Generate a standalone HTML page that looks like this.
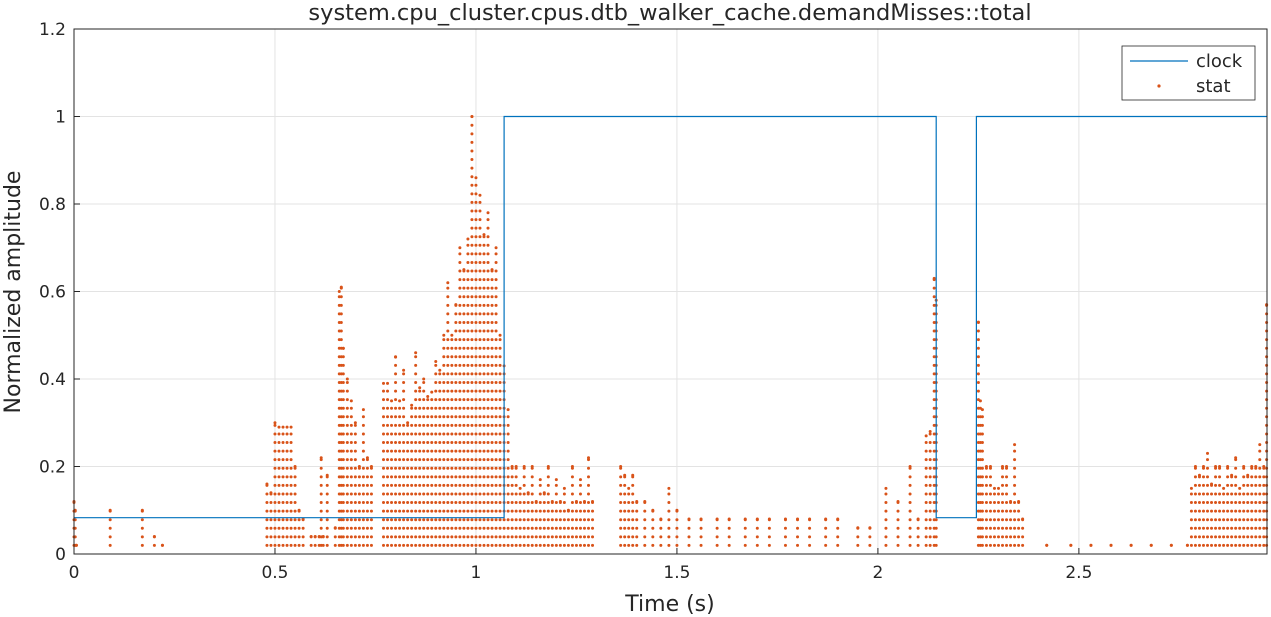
<!DOCTYPE html>
<html><head><meta charset="utf-8"><style>
html,body{margin:0;padding:0;background:#fff;}
svg{display:block;font-family:"DejaVu Sans","Liberation Sans",sans-serif;}
</style></head><body>
<svg id="chart" width="1271" height="617">
<rect x="0" y="0" width="1271" height="617" fill="#fff"/>
<g id="grid"></g>
<g id="marks"></g>
<g id="axes"></g>
<text x="670" y="20" text-anchor="middle" font-size="22.5" fill="#262626">system.cpu_cluster.cpus.dtb_walker_cache.demandMisses::total</text>
<text x="670" y="611" text-anchor="middle" font-size="22" fill="#262626">Time (s)</text>
<text transform="translate(20,292) rotate(-90)" text-anchor="middle" font-size="22" fill="#262626">Normalized amplitude</text>
<g>
<rect x="1122" y="46" width="133" height="54" fill="#fff" stroke="#262626" stroke-width="0.8"/>
<g>
<line x1="1130" y1="61" x2="1188" y2="61" stroke="#0072BD" stroke-width="1.2"/>
<text x="1196" y="67" font-size="18" fill="#262626">clock</text></g>
<g>
<circle cx="1159" cy="86" r="1.6" fill="#D95319"/>
<text x="1196" y="92" font-size="18" fill="#262626">stat</text></g>
</g>
</svg>
<script>
// clock series
const clockT = [0, 1.07, 1.07, 2.145, 2.145, 2.245, 2.245, 2.968];
const clockV = [0.083, 0.083, 1, 1, 0.083, 0.083, 1, 1];
// stat series: column times and peak values (dots at quantized levels up to peak)
const statT = [0,0.003,0.006,0.09,0.17,0.2,0.22,0.48,0.49,0.5,0.51,0.52,0.53,0.54,0.55,0.56,0.57,0.59,0.6,0.61,0.615,0.62,0.63,0.65,0.66,0.665,0.67,0.68,0.69,0.7,0.71,0.72,0.73,0.74,
0.77,0.78,0.79,0.8,0.81,0.82,0.83,0.84,0.85,0.86,0.87,0.88,0.89,0.9,0.91,0.92,0.93,0.94,0.95,0.96,0.97,0.98,0.99,1.0,1.01,1.02,1.03,1.04,1.05,1.06,1.07,1.08,
1.09,1.1,1.11,1.12,1.13,1.14,1.15,1.16,1.17,1.18,1.19,1.2,1.21,1.22,1.23,1.24,1.25,1.26,1.27,1.28,1.29,
1.36,1.37,1.38,1.39,1.4,1.42,1.44,1.46,1.48,1.5,1.53,1.56,1.6,1.63,1.67,1.7,1.73,1.77,1.8,1.83,1.87,1.9,1.95,1.98,2.02,2.05,2.08,2.1,2.12,2.13,2.14,2.145,
2.25,2.255,2.26,2.27,2.28,2.29,2.3,2.31,2.32,2.33,2.34,2.35,2.36,2.42,2.48,2.53,2.58,2.63,2.68,2.73,
2.77,2.78,2.79,2.8,2.81,2.82,2.83,2.84,2.85,2.86,2.87,2.88,2.89,2.9,2.91,2.92,2.93,2.94,2.95,2.96,2.967];
const statV = [0.12,0.1,0.02,0.1,0.1,0.04,0.02,0.16,0.14,0.3,0.29,0.29,0.29,0.29,0.2,0.1,0.08,0.04,0.04,0.04,0.22,0.04,0.18,0.06,0.6,0.61,0.47,0.4,0.35,0.3,0.2,0.33,0.22,0.2,
0.39,0.39,0.35,0.45,0.35,0.42,0.3,0.34,0.46,0.38,0.4,0.36,0.37,0.44,0.42,0.5,0.62,0.5,0.57,0.7,0.65,0.72,1.0,0.86,0.82,0.73,0.78,0.65,0.7,0.5,0.43,0.33,
0.2,0.2,0.15,0.2,0.14,0.2,0.12,0.17,0.14,0.2,0.12,0.17,0.12,0.15,0.1,0.2,0.12,0.17,0.12,0.22,0.12,
0.2,0.18,0.15,0.18,0.12,0.12,0.1,0.08,0.15,0.1,0.08,0.08,0.08,0.08,0.08,0.08,0.08,0.08,0.08,0.08,0.08,0.08,0.06,0.06,0.15,0.12,0.2,0.08,0.27,0.28,0.63,0.58,
0.53,0.35,0.33,0.2,0.2,0.15,0.15,0.2,0.2,0.12,0.25,0.12,0.08,0.02,0.02,0.02,0.02,0.02,0.02,0.02,
0.02,0.15,0.2,0.18,0.2,0.23,0.16,0.2,0.2,0.15,0.2,0.18,0.22,0.15,0.2,0.18,0.2,0.2,0.25,0.2,0.57];
const xTicks = [0,0.5,1,1.5,2,2.5];
const xTickLabels = ["0","0.5","1","1.5","2","2.5"];
const yTicks = [0,0.2,0.4,0.6,0.8,1,1.2];
const yTickLabels = ["0","0.2","0.4","0.6","0.8","1","1.2"];

const L=74,R=1267,T=29,B=554,XMAX=2.968,YMAX=1.2;
const sx=v=>L+(v/XMAX)*(R-L);
const sy=v=>B-(v/YMAX)*(B-T);
const NS="http://www.w3.org/2000/svg";
const mk=(t,a,p)=>{const e=document.createElementNS(NS,t);for(const k in a)e.setAttribute(k,a[k]);p.appendChild(e);return e;};
const grid=document.getElementById('grid'),marks=document.getElementById('marks'),axes=document.getElementById('axes');
xTicks.forEach((t,i)=>{
  const g=mk('line',{x1:sx(t),x2:sx(t),y1:T,y2:B,stroke:'#e3e3e3','stroke-width':1},grid);
  
  
  const tx=mk('text',{x:sx(t),y:B+24,'text-anchor':'middle','font-size':17,fill:'#262626'},axes);
  tx.textContent=xTickLabels[i];
  
  
  mk('line',{x1:sx(t),x2:sx(t),y1:B,y2:B-6,stroke:'#262626'},axes);
});
yTicks.forEach((t,i)=>{
  const g=mk('line',{x1:L,x2:R,y1:sy(t),y2:sy(t),stroke:'#e3e3e3','stroke-width':1},grid);
  
  
  const tx=mk('text',{x:L-8,y:sy(t)+6,'text-anchor':'end','font-size':17,fill:'#262626'},axes);
  tx.textContent=yTickLabels[i];
  
  
  mk('line',{x1:L,x2:L+6,y1:sy(t),y2:sy(t),stroke:'#262626'},axes);
});
mk('rect',{x:L,y:T,width:R-L,height:B-T,fill:'none',stroke:'#262626','stroke-width':1},axes);
// stat dots
const step=0.0196;
statT.forEach((t,i)=>{
  const g=mk('g',{},marks);
  
  
  for(let lv=step;lv<=statV[i]+0.001;lv+=step){
    mk('circle',{cx:sx(t),cy:sy(lv),r:1.5,fill:'#D95319'},g);
  }
  mk('circle',{cx:sx(t),cy:sy(statV[i]),r:1.5,fill:'#D95319'},g);
});
// clock line
let d='';
clockT.forEach((t,i)=>{d+=(i?'L':'M')+sx(t).toFixed(1)+' '+sy(clockV[i]).toFixed(1)+' ';});
const cl=mk('path',{d:d,fill:'none',stroke:'#0072BD','stroke-width':1.2},marks);


</script>
</body></html>
